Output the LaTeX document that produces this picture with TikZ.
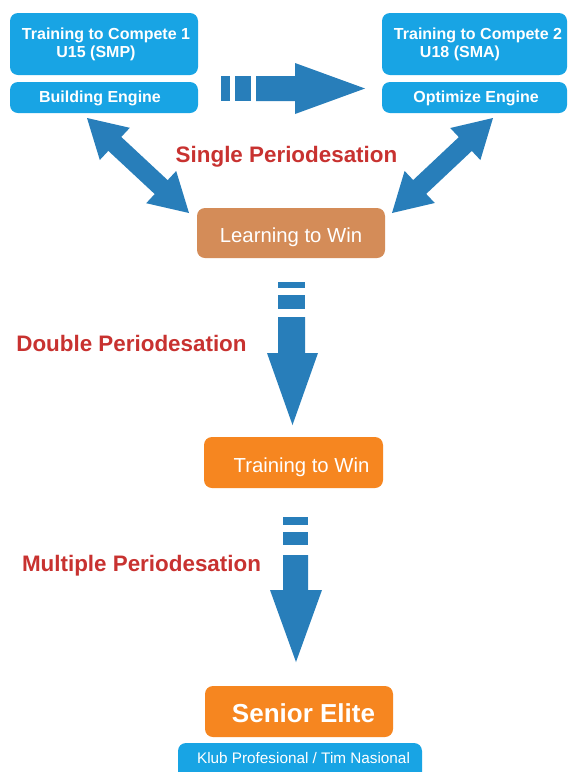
\documentclass[tikz,border=0pt]{standalone}
\usepackage{fontspec}
\setmainfont{Liberation Sans}
\usetikzlibrary{calc}
\definecolor{boxblue}{RGB}{24,164,228}
\definecolor{arrowblue}{RGB}{40,126,186}
\definecolor{labelred}{RGB}{200,50,48}
\definecolor{brownbox}{RGB}{212,140,88}
\definecolor{orangebox}{RGB}{246,134,32}
\tikzset{
  box/.style={rectangle, rounded corners=8pt, inner sep=0pt, draw=none},
  bluebox/.style={box, fill=boxblue},
  boxtext/.style={text=white, font=\fontsize{16}{18}\selectfont\bfseries, inner sep=0pt},
  midtext/.style={text=white, font=\fontsize{20.3}{22}\selectfont, inner sep=0pt},
  redlabel/.style={text=labelred, font=\fontsize{22.4}{25}\selectfont\bfseries, inner sep=0pt},
  arrowfill/.style={fill=arrowblue, draw=none},
}
\newcommand\twoheadarrow[2]{%
  \coordinate (pb) at ($(#1)!38pt!(#2)$);
  \coordinate (qb) at ($(#2)!38pt!(#1)$);
  \fill[arrowfill] (#1) -- ($(pb)!22pt!90:(#1)$) -- ($(pb)!9.5pt!90:(#1)$)
    -- ($(qb)!9.5pt!-90:(#2)$) -- ($(qb)!22pt!-90:(#2)$) -- (#2)
    -- ($(qb)!22pt!90:(#2)$) -- ($(qb)!9.5pt!90:(#2)$)
    -- ($(pb)!9.5pt!-90:(#1)$) -- ($(pb)!22pt!-90:(#1)$) -- cycle;
}
\begin{document}
\begin{tikzpicture}[x=1pt,y=-1pt]
\clip (0,0) rectangle (569,772);
\fill[white] (0,0) rectangle (569,772);

% top boxes
\node[bluebox, minimum width=188pt, minimum height=62pt] (tc1) at (104,44) {};
\node[bluebox, minimum width=188pt, minimum height=31pt] (be) at (104,97.5) {};
\node[boxtext] (tc1a) at (106,35) {Training to Compete 1};
\node[boxtext] (tc1b) at (96,53) {U15 (SMP)};
\node[boxtext] (bet) at (100,98) {Building Engine};

\node[bluebox, minimum width=185pt, minimum height=62pt] (tc2) at (474.5,44) {};
\node[bluebox, minimum width=185pt, minimum height=31pt] (oe) at (474.5,97.5) {};
\node[boxtext] (tc2a) at (478,35) {Training to Compete 2};
\node[boxtext] (tc2b) at (460,53) {U18 (SMA)};
\node[boxtext] (oet) at (476,98) {Optimize Engine};

% middle boxes
\node[box, fill=brownbox, minimum width=188pt, minimum height=50pt] (lw) at (291,233) {};
\node[midtext] (lwt) at (291,237) {Learning to Win};
\node[box, fill=orangebox, minimum width=179pt, minimum height=51pt] (tw) at (293.5,462.5) {};
\node[midtext] (twt) at (301.5,467) {Training to Win};
\node[box, fill=orangebox, minimum width=188pt, minimum height=51pt] (se) at (299,711.5) {};
\node[text=white, font=\fontsize{26}{28}\selectfont\bfseries, inner sep=0pt] (set) at (303.5,713) {Senior Elite};
\node[bluebox, minimum width=244pt, minimum height=47pt] (kb) at (300,766.5) {};
\node[text=white, font=\fontsize{15.3}{17}\selectfont, inner sep=0pt] (kbt) at (303.5,758) {Klub Profesional / Tim Nasional};

% labels
\node[redlabel] (sp) at (286.5,157) {Single Periodesation};
\node[redlabel] (dp) at (131.5,343) {Double Periodesation};
\node[redlabel] (mp) at (141.5,566) {Multiple Periodesation};

% horizontal dashed arrow between top boxes
\fill[arrowfill] (221,76) rectangle (230,101);
\fill[arrowfill] (235,76) rectangle (251,101);
\fill[arrowfill] (256,76) -- (295,76) -- (295,63) -- (365,88.5) -- (295,114) -- (295,101) -- (256,101) -- cycle;

% double-headed arrows
\coordinate (l1) at (87,118);
\coordinate (l2) at (189,213);
\coordinate (r1) at (493,118);
\coordinate (r2) at (392,213);
\twoheadarrow{l1}{l2}
\twoheadarrow{r1}{r2}

% vertical arrow 1
\fill[arrowfill] (278,282) rectangle (305,288);
\fill[arrowfill] (278,295) rectangle (305,309);
\fill[arrowfill] (278,317) -- (278,353) -- (267,353) -- (292.5,425) -- (318,353) -- (305,353) -- (305,317) -- cycle;

% vertical arrow 2
\fill[arrowfill] (283,517) rectangle (308,525);
\fill[arrowfill] (283,532) rectangle (308,545);
\fill[arrowfill] (283,555) -- (283,590) -- (270,590) -- (296,662) -- (322,590) -- (308,590) -- (308,555) -- cycle;
\end{tikzpicture}
\end{document}
